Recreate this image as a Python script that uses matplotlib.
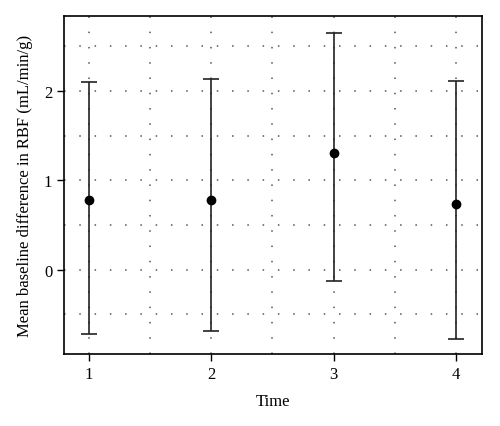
import matplotlib
matplotlib.use('Agg')
import matplotlib.pyplot as plt
from matplotlib.ticker import MultipleLocator

time = [1, 2, 3, 4]
mean_diff = [0.78, 0.78, 1.30, 0.73]
upper = [2.10, 2.13, 2.65, 2.11]
lower = [-0.72, -0.69, -0.13, -0.77]

err_low = [m - l for m, l in zip(mean_diff, lower)]
err_high = [u - m for u, m in zip(upper, mean_diff)]

plt.rcParams['font.family'] = ['Liberation Serif', 'DejaVu Serif']

fig = plt.figure(figsize=(5, 4.27), dpi=100)
ax = fig.add_axes([0.128, 0.169, 0.836, 0.792])

ax.errorbar(time, mean_diff, yerr=[err_low, err_high], fmt='o', color='black',
            ecolor='#222222', elinewidth=1.2, capsize=6, capthick=1.2,
            markersize=6, zorder=3)

ax.set_xlim(0.80, 4.21)
ax.set_ylim(-0.94, 2.84)
ax.set_xticks(time)
ax.set_yticks([0, 1, 2])
ax.xaxis.set_minor_locator(MultipleLocator(0.5))
ax.yaxis.set_minor_locator(MultipleLocator(0.5))
ax.tick_params(which='major', direction='out', length=5, width=1, labelsize=12)
ax.tick_params(which='minor', length=0)
ax.grid(True, which='both', color='#555555', linestyle=(0, (1, 9)), linewidth=1.1)
ax.set_axisbelow(True)
for s in ax.spines.values():
    s.set_linewidth(1.2)

ax.set_xlabel('Time', fontsize=12, labelpad=8)
ax.set_ylabel('Mean baseline difference in RBF (mL/min/g)', fontsize=12, labelpad=8)

fig.savefig('out.png')
